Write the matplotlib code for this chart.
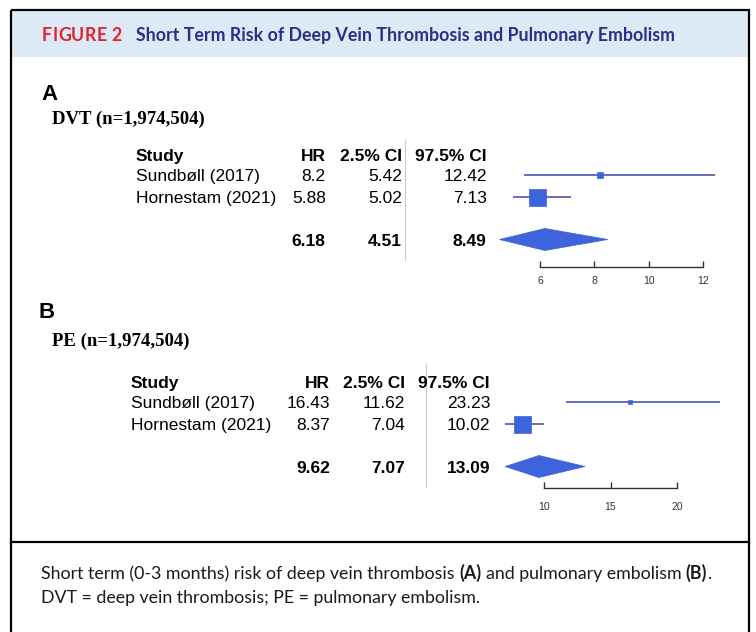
import matplotlib
matplotlib.use("Agg")
import matplotlib.pyplot as plt
from matplotlib.patches import Rectangle, Polygon

# ---------------- data ----------------
studies = ["Sundbøll (2017)", "Hornestam (2021)"]
col_headers = ["Study", "HR", "2.5% CI", "97.5% CI"]

dvt_hr = [8.2, 5.88]
dvt_lo = [5.42, 5.02]
dvt_hi = [12.42, 7.13]
dvt_pooled = [6.18, 4.51, 8.49]
dvt_ticks = [6, 8, 10, 12]

pe_hr = [16.43, 8.37]
pe_lo = [11.62, 7.04]
pe_hi = [23.23, 10.02]
pe_pooled = [9.62, 7.07, 13.09]
pe_ticks = [10, 15, 20]

fig_label = "FIGURE 2"
fig_title = "Short Term Risk of Deep Vein Thrombosis and Pulmonary Embolism"
panel_a_label, panel_a_sub = "A", "DVT (n=1,974,504)"
panel_b_label, panel_b_sub = "B", "PE (n=1,974,504)"
caption1 = [("Short term (0-3 months) risk of deep vein thrombosis", "normal"), (" ", None),
            ("(A)", "bold"), (" ", None), ("and pulmonary embolism", "normal"), (" ", None),
            ("(B)", "bold"), (".", "normal")]
caption2 = [("DVT = deep vein thrombosis; PE = pulmonary embolism.", "normal")]

# ---------------- style ----------------
W, H = 756, 632
NAVY = "#2d2f86"
RED = "#e3222b"
BAND = "#dde9f5"
LINE_C = "#3c4aa3"
BOX_C = "#3d63dd"
TABLE_FONT = "Liberation Sans"
SERIF = "Liberation Serif"
CAP_FONT = "Lato"

fig = plt.figure(figsize=(W / 100, H / 100), dpi=100)
bg = fig.add_axes([0, 0, 1, 1])
bg.set_xlim(0, W)
bg.set_ylim(H, 0)
bg.axis("off")
renderer = fig.canvas.get_renderer()


def twidth(t):
    return t.get_window_extent(renderer).width


def draw_segments(x, y, segs, size, family, color, tracking=0.0):
    texts = []
    probe1 = bg.text(0, 0, "a a", fontsize=size, family=family)
    probe2 = bg.text(0, 0, "aa", fontsize=size, family=family)
    sp = twidth(probe1) - twidth(probe2)
    probe1.remove()
    probe2.remove()
    cx = x
    for s, wgt in segs:
        if wgt is None:
            cx += sp
            continue
        t = bg.text(cx, y, s, fontsize=size, family=family, fontweight=wgt,
                    color=color, ha="left", va="baseline")
        texts.append(t)
        cx += twidth(t) + tracking
    return texts, cx - tracking


def fitted_segments(x, y, segs, target_w, family, color, size0=12):
    texts, end = draw_segments(x, y, segs, size0, family, color)
    w = end - x
    for t in texts:
        t.remove()
    size = size0 * target_w / w
    texts, end = draw_segments(x, y, segs, size, family, color)
    return size


# ---------------- frame & header ----------------
bg.add_patch(Rectangle((10.5, 10), 738, 47, facecolor=BAND, edgecolor="none", zorder=0))
bg.add_patch(Rectangle((10.5, 10), 738, 640, facecolor="none", edgecolor="black", lw=1.6, zorder=5))
bg.plot([10.5, 748.5], [542, 542], color="black", lw=1.6, zorder=5)

tsize = fitted_segments(136, 40.7, [(fig_title, "bold")], 535, CAP_FONT, NAVY)
# FIGURE 2 with letter spacing
chars = [(c, "bold") if c != " " else (" ", None) for c in fig_label]
tmp, end = draw_segments(42, 40.7, chars, tsize, CAP_FONT, RED)
nat = end - 42
for t in tmp:
    t.remove()
draw_segments(42, 40.7, chars, tsize, CAP_FONT, RED, tracking=(80 - nat) / (len(fig_label) - 1))

# caption
csize = fitted_segments(41, 579, caption1, 669, CAP_FONT, "#1a1a1a")
draw_segments(41, 603, caption2, csize, CAP_FONT, "#1a1a1a")

# ---------------- panels ----------------
SP = 21.5  # row spacing in px
TS = 12.5  # table font size
CAP_OFF = 0.716 * TS * 100 / 72 / 2


def panel(row0, axis_px, cols, vline, letter_xy, sub_xy, letter, sub,
          hr, lo, hi, pooled, ticks, px0, ppu, box_px, tick_pad):
    def ry(r):
        return row0 + r * SP + CAP_OFF

    bg.text(letter_xy[0], letter_xy[1], letter, fontsize=16, family=TABLE_FONT,
            fontweight="bold", va="baseline", ha="left")
    bg.text(sub_xy[0], sub_xy[1], sub, fontsize=13.5, family=SERIF,
            fontweight="bold", va="baseline", ha="left")
    # header
    hy = ry(-0.95)
    bg.text(cols[0], hy, col_headers[0], fontsize=TS, family=TABLE_FONT, fontweight="bold", va="baseline")
    for cx, lab in zip(cols[1:], col_headers[1:]):
        bg.text(cx, hy, lab, fontsize=TS, family=TABLE_FONT, fontweight="bold", va="baseline", ha="right")
    for i, name in enumerate(studies):
        y = ry(i)
        bg.text(cols[0], y, name, fontsize=TS, family=TABLE_FONT, va="baseline")
        for cx, v in zip(cols[1:], [hr[i], lo[i], hi[i]]):
            bg.text(cx, y, str(v), fontsize=TS, family=TABLE_FONT, va="baseline", ha="right")
    for cx, v in zip(cols[1:], pooled):
        bg.text(cx, ry(3), str(v), fontsize=TS, family=TABLE_FONT, fontweight="bold",
                va="baseline", ha="right")
    bg.plot([vline[0], vline[0]], [vline[1], vline[2]], color="#cccccc", lw=0.8)

    # forest axes
    left_px, right_px, top_px = 480, 740, row0 - 25
    ax = fig.add_axes([left_px / W, 1 - axis_px / H, (right_px - left_px) / W, (axis_px - top_px) / H])
    ax.patch.set_visible(False)
    ax.set_xlim(ticks[0] + (left_px - px0) / ppu, ticks[0] + (right_px - px0) / ppu)
    ax.set_ylim((axis_px - row0) / SP, (top_px - row0) / SP)
    rows = list(range(len(hr)))
    ax.hlines(rows, lo, hi, color=LINE_C, lw=1.1, zorder=2)
    for r, v, s in zip(rows, hr, box_px):
        ax.plot([v], [r], marker="s", ms=s * 0.72, color=BOX_C, mec=BOX_C, mew=0.5, zorder=3)
    est, plo, phi = pooled
    h = 11 / SP
    ax.add_patch(Polygon([[plo, 3], [est, 3 - h], [phi, 3], [est, 3 + h]], closed=True,
                         facecolor=BOX_C, edgecolor=BOX_C, lw=0.5, zorder=3))
    for s in ["top", "left", "right"]:
        ax.spines[s].set_visible(False)
    ax.spines["bottom"].set_bounds(ticks[0], ticks[-1])
    ax.spines["bottom"].set_color("#333333")
    ax.spines["bottom"].set_linewidth(1.0)
    ax.set_xticks(ticks)
    ax.set_xticklabels([str(t) for t in ticks], family=TABLE_FONT)
    ax.set_yticks([])
    ax.tick_params(axis="x", direction="in", length=4.5, width=1.0, colors="#333333",
                   labelsize=7.5, pad=tick_pad)


panel(175, 267, [136, 325.7, 401.7, 486.7], (405, 140, 260), (41, 100), (52, 123.5),
      panel_a_label, panel_a_sub, dvt_hr, dvt_lo, dvt_hi, dvt_pooled, dvt_ticks,
      540, 27.2, [6, 17], 6.5)
panel(402, 488, [130.7, 330, 405, 490], (425.5, 364, 487), (39, 318), (51.5, 345.5),
      panel_b_label, panel_b_sub, pe_hr, pe_lo, pe_hi, pe_pooled, pe_ticks,
      544, 13.3, [5, 17], 10)

fig.savefig("out.png", dpi=100)
